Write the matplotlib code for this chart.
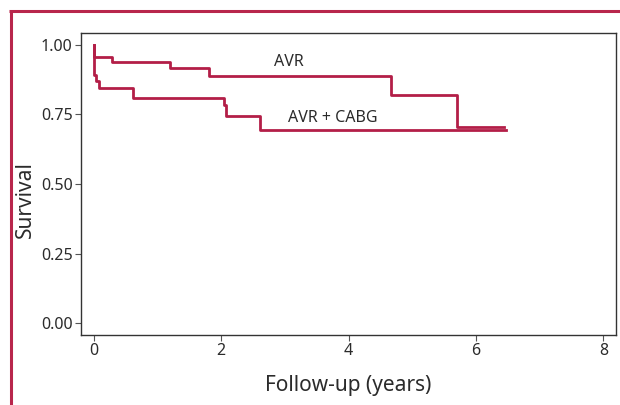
import matplotlib
matplotlib.use("Agg")
import matplotlib.pyplot as plt
from matplotlib.lines import Line2D

plt.rcParams['font.family'] = ['Noto Sans', 'DejaVu Sans']

# Kaplan-Meier step data (time in years, survival)
avr_t = [0.0, 0.0, 0.28, 1.19, 1.81, 4.67, 5.70, 6.44]
avr_s = [1.0, 0.956, 0.940, 0.916, 0.890, 0.821, 0.705, 0.705]

cabg_t = [0.0, 0.0, 0.01, 0.03, 0.08, 0.62, 2.05, 2.07, 2.61, 6.47]
cabg_s = [1.0, 0.956, 0.893, 0.869, 0.846, 0.810, 0.784, 0.745, 0.694, 0.694]

labels = ["AVR", "AVR + CABG"]
label_pos = [(3.07, 0.937), (3.75, 0.738)]

x_ticks = [0, 2, 4, 6, 8]
y_ticks = [0.0, 0.25, 0.5, 0.75, 1.0]
y_ticklabels = ["0.00", "0.25", "0.50", "0.75", "1.00"]

curve_color = "#B31E47"
border_color = "#B8264C"
text_color = "#2b2b2b"

fig = plt.figure(figsize=(6.2, 4.05), dpi=100)
ax = fig.add_axes([81/620, 1-335/405, (616-81)/620, (335-33)/405])

ax.step(avr_t, avr_s, where="post", color=curve_color, lw=2.0)
ax.step(cabg_t, cabg_s, where="post", color=curve_color, lw=2.0)

for lab, (x, y) in zip(labels, label_pos):
    ax.text(x, y, lab, ha="center", va="center", fontsize=11.5, color=text_color)

ax.set_xlim(-0.2, 8.2)
ax.set_ylim(-0.043, 1.043)
ax.set_xticks(x_ticks)
ax.set_yticks(y_ticks)
ax.set_yticklabels(y_ticklabels)
ax.tick_params(axis="both", direction="out", length=4, width=0.8, color="#555555",
               labelsize=11.5, labelcolor=text_color, pad=2)
for sp in ax.spines.values():
    sp.set_color("#333333")
    sp.set_linewidth(1.0)

ax.set_xlabel("Follow-up (years)", fontsize=15, color=text_color, labelpad=11)
ax.set_ylabel("Survival", fontsize=15, color=text_color)
ax.yaxis.set_label_coords(-0.085, 0.45)

# decorative border
fig.add_artist(Line2D([10.5/620, 10.5/620], [0, 1-11.3/405], color=border_color, lw=2.2,
                      transform=fig.transFigure, solid_capstyle="butt"))
fig.add_artist(Line2D([9.4/620, 1], [1-11.3/405, 1-11.3/405], color=border_color, lw=2.2,
                      transform=fig.transFigure, solid_capstyle="butt"))

fig.savefig("out.png", dpi=100)
